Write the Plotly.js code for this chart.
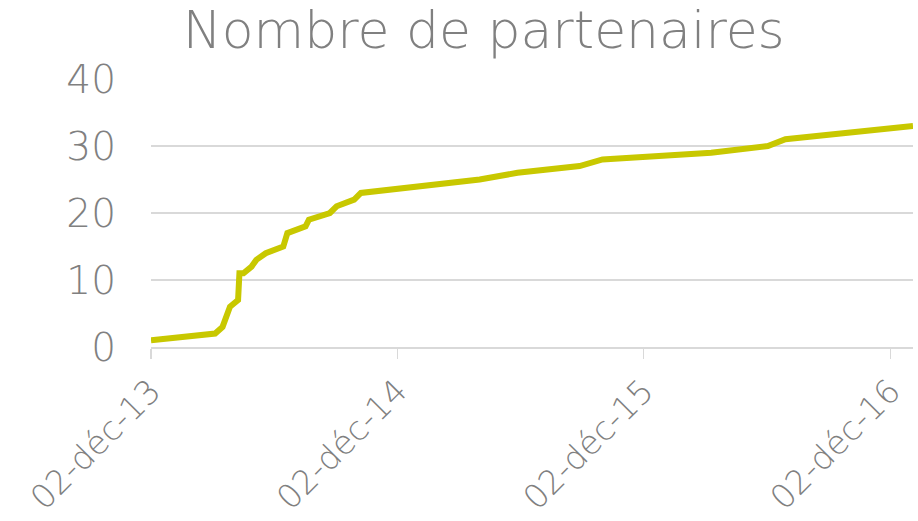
<!DOCTYPE html>
<html>
<head>
<meta charset="utf-8">
<script src="https://cdn.plot.ly/plotly-3.0.1.min.js"></script>
<style>html,body{margin:0;padding:0;background:#fff;}#chart{width:918px;height:521px;}</style>
</head>
<body>
<div id="chart"></div>
<script>
const dates = ["2013-12-02","2014-03-07","2014-03-18","2014-03-24","2014-03-29","2014-04-10","2014-04-12","2014-04-18","2014-04-30","2014-05-07","2014-05-21","2014-06-16","2014-06-22","2014-07-19","2014-07-24","2014-08-24","2014-09-03","2014-09-29","2014-10-09","2015-04-03","2015-05-29","2015-08-29","2015-10-02","2016-03-11","2016-06-03","2016-06-29","2017-01-04"];
const partenaires = [1,2,3,5,6,7,11,11,12,13,14,15,17,18,19,20,21,22,23,25,26,27,28,29,30,31,33];
const tickDates = ["2013-12-02","2014-12-02","2015-12-02","2016-12-02"];
const tickLabels = ["02-déc-13","02-déc-14","02-déc-15","02-déc-16"];

const FONT = "'DejaVu Sans', sans-serif";
Plotly.newPlot("chart", [{
  x: dates, y: partenaires, type: "scatter", mode: "lines",
  line: {color: "#C8C800", width: 6},
  hoverinfo: "skip"
}], {
  width: 918, height: 521,
  margin: {l: 151, r: 5, t: 79, b: 174},
  paper_bgcolor: "#fff", plot_bgcolor: "#fff",
  showlegend: false,
  title: {text: "Nombre de partenaires", x: 0.527, xanchor: "center", y: 0.978, yanchor: "top",
          font: {family: FONT, size: 52, color: "#808080", weight: 200}},
  xaxis: {
    type: "date", range: ["2013-12-02", "2017-01-04"],
    tickmode: "array", tickvals: tickDates, ticktext: tickLabels,
    tickangle: -45, ticks: "outside", ticklen: 10, tickcolor: "#d9d9d9", tickwidth: 1.5,
    showgrid: false, showline: true, linecolor: "#d9d9d9", linewidth: 1.5,
    zeroline: false, tickfont: {family: FONT, size: 33, color: "#808080", weight: 200}
  },
  yaxis: {
    range: [0, 40], tickvals: [0,10,20,30,40], ticks: "",
    showgrid: true, gridcolor: "#d9d9d9", gridwidth: 1.5,
    zeroline: false, showline: false, ticklabelstandoff: 34,
    tickfont: {family: FONT, size: 39, color: "#808080", weight: 200}
  }
}, {displayModeBar: false, staticPlot: true});
</script>
</body>
</html>
